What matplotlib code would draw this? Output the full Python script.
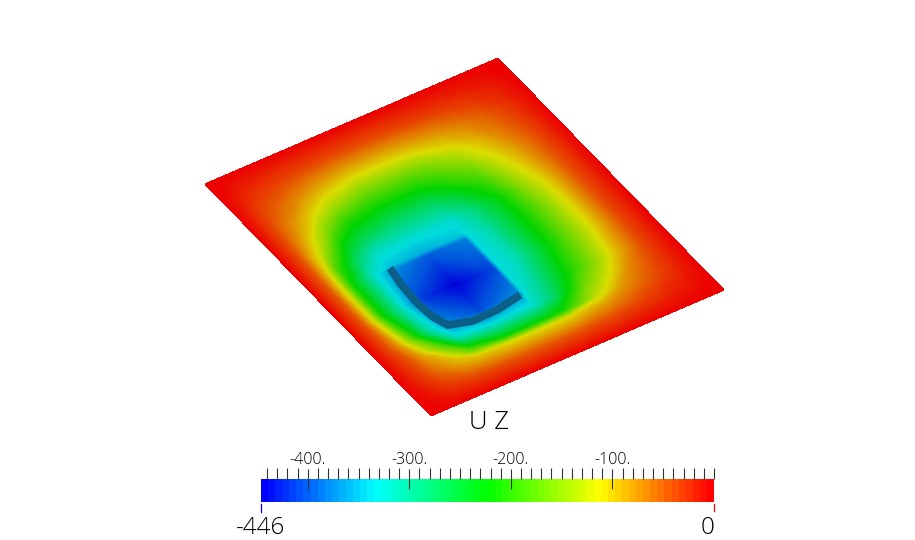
import numpy as np
import matplotlib
matplotlib.use("Agg")
import matplotlib.pyplot as plt
from matplotlib.colors import LinearSegmentedColormap
from matplotlib.transforms import Affine2D
from matplotlib.ticker import FixedLocator

# Plate node positions (fractions along the two plate edges)
s_nodes = [0, .05, .08, .115, .19, .25, .365, .50, .515, .57, .68, .76, .83, .92, 1]
t_nodes = [0, .08, .16, .23, .30, .36, .43, .49, .505, .633, .744, .80, .855, .88, .94, 1]

# UZ: rows follow t_nodes, columns follow s_nodes
uz = [
    [-1, -1, -1, -1, -1, -1, -1, -1, -1, -1, -1, -1, -1, -1, -1],
    [-1, -14, -20, -24, -30, -34, -38, -38, -38, -37, -32, -28, -23, -14, -1],
    [-1, -26, -38, -48, -68, -84, -102, -102, -101, -97, -82, -66, -50, -26, -1],
    [-1, -32, -52, -70, -108, -135, -165, -165, -165, -158, -125, -95, -66, -32, -1],
    [-1, -36, -66, -95, -165, -205, -225, -225, -222, -205, -165, -118, -83, -36, -1],
    [-1, -40, -85, -125, -222, -255, -275, -275, -270, -250, -195, -135, -93, -38, -1],
    [-1, -44, -100, -185, -280, -322, -328, -328, -326, -295, -225, -155, -106, -38, -1],
    [-1, -46, -108, -210, -320, -348, -358, -345, -335, -310, -228, -165, -112, -38, -1],
    [-1, -46, -110, -215, -325, -375, -400, -382, -335, -312, -228, -168, -112, -38, -1],
    [-1, -44, -110, -215, -335, -415, -446, -410, -335, -320, -228, -165, -112, -38, -1],
    [-1, -36, -70, -135, -300, -375, -408, -375, -330, -295, -205, -150, -95, -34, -1],
    [-1, -28, -46, -85, -190, -320, -335, -325, -320, -280, -165, -118, -70, -30, -1],
    [-1, -22, -38, -60, -100, -170, -225, -222, -220, -210, -125, -80, -55, -26, -1],
    [-1, -20, -32, -50, -85, -100, -112, -112, -112, -110, -88, -65, -45, -23, -1],
    [-1, -10, -18, -25, -34, -38, -42, -42, -42, -40, -36, -29, -22, -12, -1],
    [-1, -1, -1, -1, -1, -1, -1, -1, -1, -1, -1, -1, -1, -1, -1],
]

# Foundation beam centre line, in plate fractions
beam_s = [.248, .237, .231, .237, .254, .324, .407, .498]
beam_t = [.497, .555, .638, .702, .746, .766, .764, .749]

# Colour bar
uz_min = -446
uz_max = 0
major_ticks = [-400, -300, -200, -100]
major_labels = ["-400.", "-300.", "-200.", "-100."]
minor_ticks = [-440, -430, -420, -410, -390, -380, -370, -360, -350, -340, -330,
               -320, -310, -290, -280, -270, -260, -250, -240, -230, -220, -210,
               -190, -180, -170, -160, -150, -140, -130, -120, -110, -90, -80,
               -70, -60, -50, -40, -30, -20, -10, 0]
n_bands = 64
title = "U Z"

FONT = "Open Sans"
rainbow = ["#0000ff", "#00ffff", "#00ff00", "#ffff00", "#ff0000"]
shaded = ["#0000dc", "#00dcdc", "#00d400", "#dcdc00", "#ec0000"]
cmap_bar = LinearSegmentedColormap.from_list("bar", rainbow, N=n_bands)
cmap_plate = LinearSegmentedColormap.from_list("plate", shaded, N=512)

W, H = 915, 540
fig = plt.figure(figsize=(W / 100, H / 100), dpi=100)
ax = fig.add_axes([0, 0, 1, 1])
ax.set_xlim(0, W)
ax.set_ylim(H, 0)
ax.axis("off")

# Plate fractions -> picture pixels
plate = Affine2D.from_values(293, -126, 226, 232, 205, 184) + ax.transData
ax.contourf(s_nodes, t_nodes, np.array(uz), levels=np.linspace(uz_min, uz_max, 180),
            cmap=cmap_plate, vmin=uz_min, vmax=uz_max, transform=plate,
            antialiased=False, extend="both")
ax.plot(beam_s, beam_t, color="#0b5f86", lw=5.6, solid_capstyle="butt",
        solid_joinstyle="miter", transform=plate)

ax.text(489, 429, title, ha="center", va="baseline", fontsize=18.5, family=FONT,
        fontweight="light", color="#000000")

# Colour bar axes
x0, x1, y0, y1 = 261, 714, 479, 502
cax = fig.add_axes([x0 / W, 1 - y1 / H, (x1 - x0) / W, (y1 - y0) / H])
edges = np.linspace(uz_min, uz_max, n_bands + 1)
cax.pcolormesh(edges, [0, 1], ((edges[:-1] + edges[1:]) / 2)[None, :], cmap=cmap_bar,
               vmin=uz_min, vmax=uz_max, antialiased=False)
for sp in cax.spines.values():
    sp.set_visible(False)
cax.set_xlim(uz_min, uz_max)
cax.set_yticks([])
cax.xaxis.set_major_locator(FixedLocator(major_ticks))
cax.xaxis.set_minor_locator(FixedLocator(minor_ticks))
cax.set_xticklabels(major_labels, family=FONT, fontsize=11.5, fontweight="light", color="#000000")
cax.tick_params(axis="x", which="major", top=True, bottom=False, labeltop=True, labelbottom=False,
                direction="inout", length=14.4, width=0.8, color="#333333", pad=1)
cax.tick_params(axis="x", which="minor", top=True, bottom=False, direction="out",
                length=7.9, width=0.8, color="#333333")

# End marks and range labels
ax.plot([260.5, 260.5], [504, 512], color="#0000ff", lw=0.9)
ax.plot([713.5, 713.5], [504, 511], color="#ff0000", lw=0.9)
ax.text(260.5, 534, f"{uz_min}", ha="center", va="baseline", fontsize=17.5, family=FONT,
        fontweight="light", color="#000000")
ax.text(714, 534, f"{uz_max}", ha="right", va="baseline", fontsize=17.5, family=FONT,
        fontweight="light", color="#000000")

fig.savefig("out.png", dpi=100, facecolor="white")
